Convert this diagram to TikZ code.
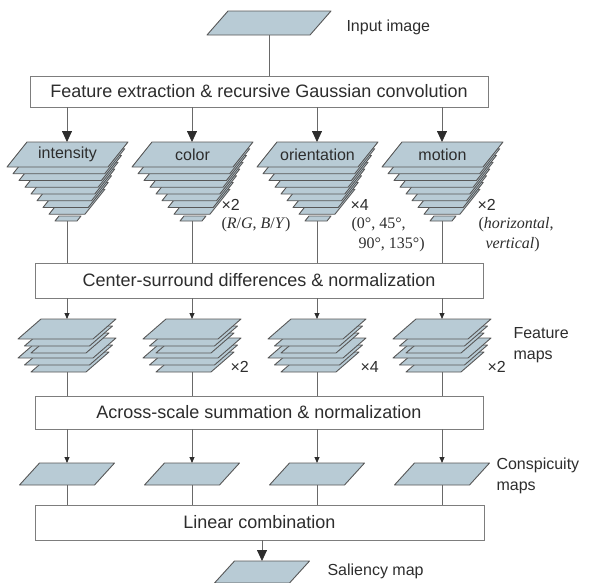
\documentclass[tikz,border=0pt]{standalone}
\usepackage{fontspec}
\setmainfont{Liberation Sans}
\newfontfamily\serifpart{Liberation Serif}
\usetikzlibrary{arrows.meta}

\definecolor{planefill}{RGB}{184,203,213}
\definecolor{planeedge}{RGB}{88,88,88}
\definecolor{boxedge}{RGB}{125,125,125}
\definecolor{linkgray}{RGB}{105,105,105}
\definecolor{inkgray}{RGB}{45,45,45}

% one flat map: bottom-left x, bottom-left y, width, height, skew
\newcommand{\mapplane}[5]{%
  \filldraw[plane] ({#1},{#2}) -- ++({#3},0) -- ++({#5},{-(#4)}) -- ++({-(#3)},0) -- cycle;}

\tikzset{
  plane/.style={fill=planefill, draw=planeedge, line width=0.9pt, line join=round},
  procbox/.style={draw=boxedge, fill=white, line width=0.9pt, text=inkgray,
    font=\fontsize{18}{21}\selectfont, inner sep=0pt},
  planelabel/.style={text=inkgray, font=\fontsize{16}{19}\selectfont},
  sidelabel/.style={text=inkgray, font=\fontsize{16}{21}\selectfont, align=left, anchor=west},
  mult/.style={text=inkgray, font=\fontsize{16}{19}\selectfont, anchor=west},
  setlabel/.style={text=inkgray, font=\serifpart\fontsize{16}{20}\selectfont, align=left, anchor=west},
  link/.style={draw=linkgray, line width=0.8pt},
  bigarrow/.style={link, -{Triangle[length=11pt,width=10pt,color=inkgray]}},
  smallarrow/.style={link, -{Triangle[length=6pt,width=5pt,color=inkgray]}}
}

\begin{document}
\begin{tikzpicture}[x=1pt, y=-1pt]
  \useasboundingbox (0,0) rectangle (594,582);

  % Input image
  \mapplane{207}{35}{103}{24}{21}
  \coordinate (in-bot) at (269,35);
  \node[sidelabel] (inputlbl) at (343,27) {Input image};

  % Processing boxes
  \node[procbox, minimum width=458, minimum height=31] (extract) at (259,91.5)
    {Feature extraction \& recursive Gaussian convolution};
  \node[procbox, minimum width=448, minimum height=35] (center) at (259,280.5)
    {Center-surround differences \& normalization};
  \node[procbox, minimum width=448, minimum height=33] (across) at (259,412.5)
    {Across-scale summation \& normalization};
  \node[procbox, minimum width=449, minimum height=35] (combine) at (259.5,522.5)
    {Linear combination};

  \draw[link] (in-bot) -- (in-bot |- extract.north);

  % Four channels: pyramid, feature maps, conspicuity map
  \foreach \cx/\nm/\lbl in {67/int/intensity, 192/col/color, 317/ori/orientation, 442/mot/motion} {
    % Gaussian pyramid
    \mapplane{\cx-12}{221}{22}{5}{4}
    \foreach \i in {7,...,0}
      \mapplane{\cx-60+6*\i}{167+6.75*\i}{101-9.3*\i}{25}{20}
    \node[planelabel] (\nm-lbl) at (\cx+0.5,154.5) {\lbl};
    \coordinate (\nm-top) at (\cx,142);
    \coordinate (\nm-bot) at (\cx,221);
    % Feature maps
    \foreach \g in {19,0}
      \foreach \k in {2,1,0}
        \mapplane{\cx-49+6.5*\k}{339+\g+7*\k}{75-10*\k}{20}{23}
    \coordinate (\nm-ftop) at (\cx,319);
    \coordinate (\nm-fbot) at (\cx,372);
    % Conspicuity map
    \mapplane{\cx-47.5}{485}{75}{22}{20}
    \coordinate (\nm-ctop) at (\cx,463);
    \coordinate (\nm-cbot) at (\cx,485);
    % Connectors
    \draw[bigarrow] (extract.south -| \nm-top) -- (\nm-top);
    \draw[link] (\nm-bot) -- (\nm-bot |- center.north);
    \draw[smallarrow] (center.south -| \nm-ftop) -- (\nm-ftop);
    \draw[link] (\nm-fbot) -- (\nm-fbot |- across.north);
    \draw[smallarrow] (across.south -| \nm-ctop) -- (\nm-ctop);
    \draw[link] (\nm-cbot) -- (\nm-cbot |- combine.north);
  }

  % Channel counts
  \node[mult] (colmult) at (218,205) {×2};
  \node[setlabel] (colset) at (218,225) {(\textit{R}/\textit{G}, \textit{B}/\textit{Y})};
  \node[mult] (orimult) at (347,205) {×4};
  \node[setlabel] (oriset) at (348,235) {(0°, 45°,\\\hspace*{7pt}90°, 135°)};
  \node[mult] (motmult) at (474,205) {×2};
  \node[setlabel] (motset) at (475,235) {(\textit{horizontal},\\\hspace*{7pt}\textit{vertical})};

  \node[mult] (colfmult) at (227,367) {×2};
  \node[mult] (orifmult) at (357,367) {×4};
  \node[mult] (motfmult) at (484,367) {×2};

  % Side labels
  \node[sidelabel] (featlbl) at (510,345) {Feature\\maps};
  \node[sidelabel] (consplbl) at (493,476) {Conspicuity\\maps};

  % Saliency map
  \mapplane{214.5}{583}{75}{22}{20}
  \coordinate (sal-top) at (262,561);
  \node[sidelabel] (sallbl) at (324,571) {Saliency map};
  \draw[bigarrow] (combine.south -| sal-top) -- (sal-top);
\end{tikzpicture}
\end{document}
